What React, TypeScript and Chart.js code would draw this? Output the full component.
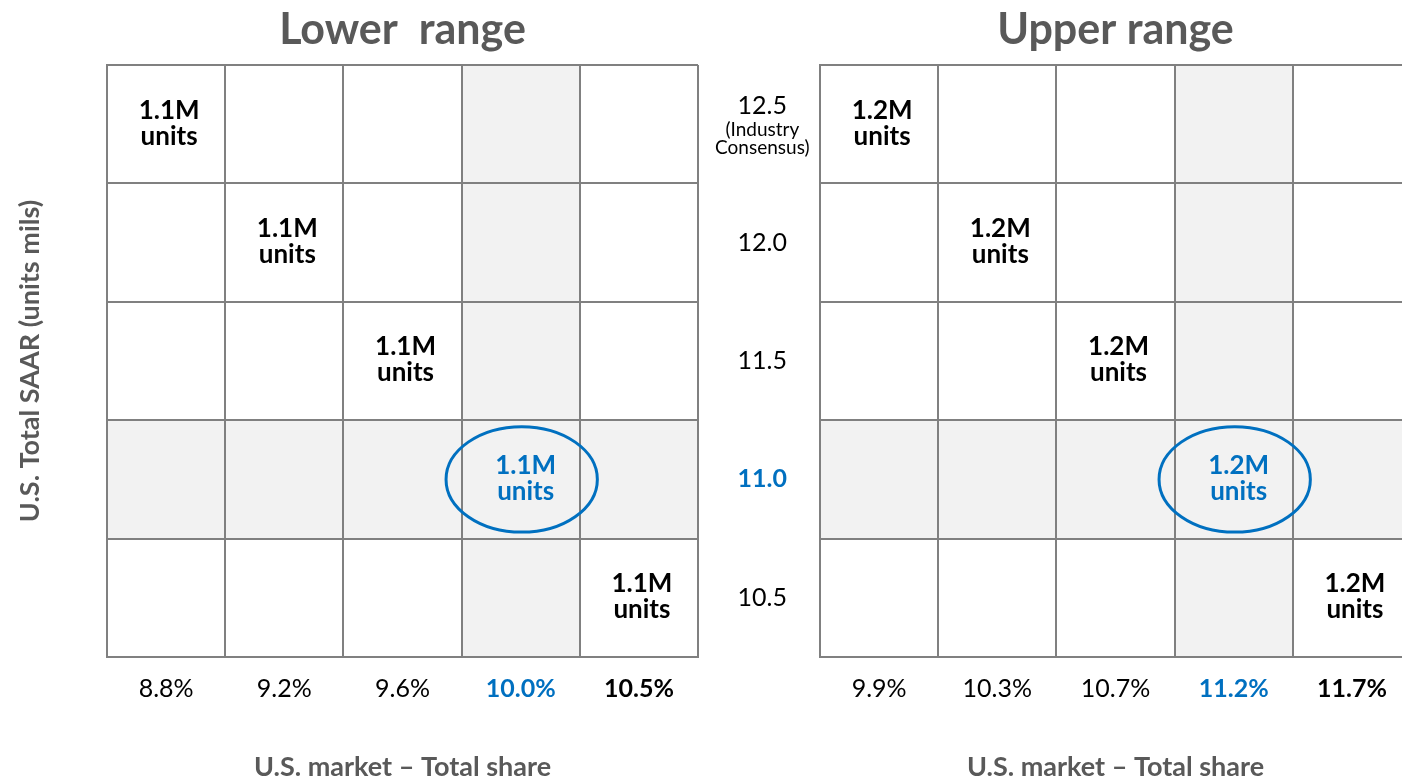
import React, { useEffect, useRef } from 'react';
import { Chart, registerables } from 'chart.js';

Chart.register(...registerables);

// ---- data ----
const saarLabels = ['12.5', '12.0', '11.5', '11.0', '10.5'];
const saarNote = ['(Industry', 'Consensus)'];
const lowerShares = ['8.8%', '9.2%', '9.6%', '10.0%', '10.5%'];
const upperShares = ['9.9%', '10.3%', '10.7%', '11.2%', '11.7%'];
const lowerUnits = [1.1, 1.1, 1.1, 1.1, 1.1];
const upperUnits = [1.2, 1.2, 1.2, 1.2, 1.2];
const highlightShareIndex = 3;
const highlightSaarIndex = 3;
const boldShareIndex = 4;
const lowerTitle = 'Lower  range';
const upperTitle = 'Upper range';
const xTitle = 'U.S. market \u2013 Total share';
const yTitle = 'U.S. Total SAAR (units mils)';

// ---- styles ----
const FONT = 'Lato, "Open Sans", sans-serif';
const BLUE = '#0070c0';
const GRAY_TEXT = '#595959';
const GRID = '#808080';
const SHADE = '#f2f2f2';

function makePlugin(showNote: boolean) {
  return {
    id: 'sensGrid',
    beforeDraw(chart: any) {
      const { ctx, chartArea, scales } = chart;
      const x = scales.x;
      const y = scales.y;
      const colW = (chartArea.right - chartArea.left) / x.getLabels().length;
      const rowH = (chartArea.bottom - chartArea.top) / y.getLabels().length;
      ctx.save();
      ctx.fillStyle = SHADE;
      const cx = x.getPixelForValue(highlightShareIndex);
      ctx.fillRect(cx - colW / 2, chartArea.top, colW, chartArea.bottom - chartArea.top);
      const cy = y.getPixelForValue(highlightSaarIndex);
      ctx.fillRect(chartArea.left, cy - rowH / 2, chartArea.right - chartArea.left, rowH);
      ctx.restore();
    },
    afterDatasetsDraw(chart: any) {
      const { ctx, chartArea, scales } = chart;
      const x = scales.x;
      const y = scales.y;
      const colW = (chartArea.right - chartArea.left) / x.getLabels().length;
      const rowH = (chartArea.bottom - chartArea.top) / y.getLabels().length;
      const meta = chart.getDatasetMeta(0);
      const ds = chart.data.datasets[0];
      ctx.save();
      ctx.textAlign = 'center';
      ctx.textBaseline = 'middle';
      ctx.font = `bold 26px ${FONT}`;
      meta.data.forEach((pt: any, i: number) => {
        const d = ds.data[i];
        const hl = d.xi === highlightShareIndex && d.yi === highlightSaarIndex;
        ctx.fillStyle = hl ? BLUE : '#000';
        const tx = pt.x + (hl ? 5 : 3);
        ctx.fillText(`${d.v.toFixed(1)}M`, tx, pt.y - 14);
        ctx.fillText('units', tx, pt.y + 12);
        if (hl) {
          ctx.beginPath();
          ctx.ellipse(pt.x + 1, pt.y, colW * 0.64, rowH * 0.445, 0, 0, Math.PI * 2);
          ctx.strokeStyle = BLUE;
          ctx.lineWidth = 3;
          ctx.stroke();
        }
      });
      ctx.restore();
    },
    afterDraw(chart: any) {
      if (!showNote) return;
      const { ctx, scales } = chart;
      const y = scales.y;
      const py = y.getPixelForValue(0);
      ctx.save();
      ctx.font = `25px ${FONT}`;
      const w = ctx.measureText(saarLabels[0]).width;
      const xc = y.right - 33 - w / 2;
      ctx.font = `19px ${FONT}`;
      ctx.fillStyle = '#000';
      ctx.textAlign = 'center';
      ctx.textBaseline = 'middle';
      ctx.fillText(saarNote[0], xc, py + 6);
      ctx.fillText(saarNote[1], xc, py + 24);
      ctx.restore();
    },
  };
}

function buildConfig(title: string, shares: string[], units: number[], right: boolean) {
  const points = shares.map((s, i) => ({ x: s, y: saarLabels[i], xi: i, yi: i, v: units[i] }));
  return {
    type: 'scatter',
    data: {
      datasets: [
        {
          data: points,
          pointRadius: 0,
          pointHoverRadius: 0,
          showLine: false,
        },
      ],
    },
    options: {
      animation: false,
      responsive: false,
      events: [],
      layout: { padding: { left: 0, right: right ? 9 : 22, top: 0, bottom: 0 } },
      plugins: {
        legend: { display: false },
        tooltip: { enabled: false },
        title: {
          display: true,
          text: title,
          fullSize: false,
          color: GRAY_TEXT,
          font: { family: FONT, size: 43, weight: 'bold', lineHeight: 1.2 },
          padding: { top: 4, bottom: 9.4 },
        },
      },
      scales: {
        x: {
          type: 'category',
          labels: shares,
          position: 'bottom',
          offset: true,
          afterFit: (s: any) => {
            s.height = 126;
          },
          grid: { display: true, color: GRID, lineWidth: 2, drawTicks: false, offset: true },
          border: { display: true, color: GRID, width: 2 },
          ticks: {
            padding: 17,
            color: (c: any) => (c.index === highlightShareIndex ? BLUE : '#000'),
            font: (c: any) => ({
              family: FONT,
              size: 25,
              weight: c.index === highlightShareIndex || c.index === boldShareIndex ? 'bold' : 'normal',
            }),
            maxRotation: 0,
            autoSkip: false,
          },
          title: {
            display: true,
            text: xTitle,
            color: GRAY_TEXT,
            font: { family: FONT, size: 27, weight: 'bold', lineHeight: 1.2 },
            padding: { top: 0, bottom: 0 },
          },
        },
        y: {
          type: 'category',
          labels: saarLabels,
          position: 'left',
          offset: true,
          afterFit: (s: any) => {
            s.width = right ? 120 : 107;
          },
          grid: { display: true, color: GRID, lineWidth: 2, drawTicks: false, offset: true },
          border: { display: true, color: GRID, width: 2 },
          ticks: {
            display: right,
            padding: 33,
            crossAlign: 'near',
            autoSkip: false,
            callback: (_v: any, i: number) => (i === 0 ? [saarLabels[0], ''] : saarLabels[i]),
            color: (c: any) => (c.index === highlightSaarIndex ? BLUE : '#000'),
            font: (c: any) => ({
              family: FONT,
              size: 25,
              weight: c.index === highlightSaarIndex ? 'bold' : 'normal',
              lineHeight: c.index === 0 ? 1.44 : 1.2,
            }),
          },
          title: {
            display: !right,
            text: yTitle,
            color: GRAY_TEXT,
            font: { family: FONT, size: 27, weight: 'bold', lineHeight: 1.2 },
            padding: { top: 14, bottom: 0 },
          },
        },
      },
    },
    plugins: [makePlugin(right)],
  } as any;
}

function Panel(props: { title: string; shares: string[]; units: number[]; right: boolean; left: number }) {
  const ref = useRef<HTMLCanvasElement | null>(null);
  useEffect(() => {
    if (!ref.current) return;
    const chart = new Chart(ref.current, buildConfig(props.title, props.shares, props.units, props.right));
    return () => chart.destroy();
  }, []);
  return (
    <canvas
      ref={ref}
      width={720}
      height={783}
      style={{ position: 'absolute', left: props.left, top: 0, width: 720, height: 783 }}
    />
  );
}

export default function App() {
  return (
    <div
      style={{
        position: 'fixed',
        left: 0,
        top: 0,
        width: 1402,
        height: 783,
        overflow: 'hidden',
        background: '#fff',
      }}
    >
      <Panel title={lowerTitle} shares={lowerShares} units={lowerUnits} right={false} left={0} />
      <Panel title={upperTitle} shares={upperShares} units={upperUnits} right={true} left={700} />
    </div>
  );
}
